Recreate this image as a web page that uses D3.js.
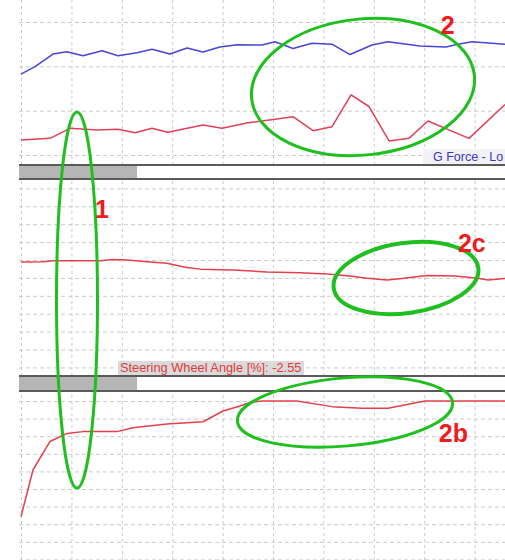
<!DOCTYPE html>
<html><head><meta charset="utf-8">
<script src="https://cdn.jsdelivr.net/npm/d3@7"></script>
<style>html,body{margin:0;padding:0;background:#fff;overflow:hidden}svg{display:block}</style>
</head><body>
<script>
// Lap distance (one grid column = 10 units) and the logged channels
const gDist = [0,2.78,6.35,9.13,12.3,16.07,19.25,23.0,26.0,29.56,32.94,36.11,39.48,42.86,47.82,50.4,53.97,57.74,61.7,65.28,69.64,72.82,79.17,84.33,86.71,89.48,96.03];
const gLong = [0.913,0.996,1.139,1.165,1.12,1.176,1.12,1.154,1.192,1.139,1.207,1.162,1.218,1.243,1.241,1.278,1.201,1.26,1.25,1.133,1.241,1.278,1.229,1.218,1.248,1.278,1.248];
const gLatDist = [0,5.75,9.72,15.08,19.25,22.62,25.99,29.17,36.11,39.88,45.04,50.4,53.97,57.94,61.71,65.48,69.05,73.02,76.98,80.75,88.89,96.03];
const gLat = [0.169,0.188,0.301,0.282,0.29,0.251,0.301,0.256,0.338,0.301,0.364,0.403,0.432,0.274,0.319,0.677,0.547,0.158,0.188,0.383,0.188,0.570];
const steerDist = [0,4.37,6.35,15.67,18.25,21.03,24.99,28.96,32.54,35.52,42.06,48.81,55.36,60.71,65.28,68.65,72.62,75.6,80.56,86.11,90.67,92.66,96.03];
const steerPct = [-0.56,-0.47,-0.22,-0.22,0.17,0,-0.47,-0.92,-2.04,-2.55,-2.79,-3.35,-3.55,-3.91,-4.47,-5.11,-5.59,-5.17,-4.33,-4.47,-5.11,-5.59,-5.17];
const throttleDist = [0,2.38,5.75,9.13,12.3,19.05,22.22,28.96,36.11,40.08,43.45,45.44,47.82,54.76,61.71,67.66,72.82,80.16,96.03];
const throttlePct = [34.3,60.8,77,81.6,82.6,82.6,84.8,86.9,88.2,94.3,97.2,99.1,100,100,96.8,95.9,95.9,100,100];
const cursorIndex = 9;
const channelNames = ["G Force - Lo", "Steering Wheel Angle [%]"];
const distTicks = [0,10,20,30,40,50,60,70,80,90];

const W = 505, H = 560, left = 19;
const svg = d3.select("body").append("svg").attr("width", W).attr("height", H);
const x = d3.scaleLinear().domain([0, 10]).range([21, 71.4]);

const panels = [
  { top: 0, bottom: 165, y: d3.scaleLinear().domain([0, 0.5]).range([155, 110.67]), step: 0.5,
    series: [{ d: gDist, v: gLong, color: "#4646d8" }, { d: gLatDist, v: gLat, color: "#e0405a" }] },
  { top: 180, bottom: 376, y: d3.scaleLinear().domain([0, 5]).range([260, 242.1]), step: 5,
    series: [{ d: steerDist, v: steerPct, color: "#e3404a" }] },
  { top: 392, bottom: 560, y: d3.scaleLinear().domain([100, 90]).range([401, 418.6]), step: 10,
    series: [{ d: throttleDist, v: throttlePct, color: "#e3404a" }] }
];

panels.forEach((p, i) => {
  const g = svg.append("g");
  const id = "clip" + i;
  svg.append("clipPath").attr("id", id).append("rect")
    .attr("x", left).attr("y", p.top).attr("width", W - left).attr("height", p.bottom - p.top);
  const body = g.append("g").attr("clip-path", `url(#${id})`);
  body.append("rect").attr("x", left).attr("y", p.top).attr("width", W - left)
    .attr("height", p.bottom - p.top).attr("fill", "#fff");

  // horizontal grid from the panel's value scale
  const lo = Math.min(p.y.invert(p.top), p.y.invert(p.bottom));
  const hi = Math.max(p.y.invert(p.top), p.y.invert(p.bottom));
  const vals = d3.range(Math.ceil(lo / p.step), Math.floor(hi / p.step) + 1).map(k => k * p.step);
  const hg = body.append("g").attr("transform", `translate(${left},0)`)
    .call(d3.axisLeft(p.y).tickValues(vals).tickSize(-(W - left)).tickFormat(""));
  hg.select(".domain").remove();
  hg.selectAll("line").attr("stroke", "#cacaca").attr("stroke-dasharray", "4,3");

  // vertical grid from the distance scale
  const vg = body.append("g").attr("transform", `translate(0,${p.bottom})`)
    .call(d3.axisTop(x).tickValues(distTicks).tickSize(p.bottom - p.top).tickFormat(""));
  vg.select(".domain").remove();
  vg.selectAll("line").attr("stroke", "#cacaca").attr("stroke-dasharray", "3,3");

  p.series.forEach(s => {
    const line = d3.line().x(k => x(s.d[k])).y(k => p.y(s.v[k]));
    body.append("path").attr("d", line(d3.range(s.d.length)))
      .attr("fill", "none").attr("stroke", s.color).attr("stroke-width", 1.5)
      .attr("stroke-linejoin", "round");
  });
});

// scroll bars between the panels
[[165, 179], [376, 391]].forEach(([a, b]) => {
  svg.append("rect").attr("x", left).attr("y", a).attr("width", W - left).attr("height", b - a).attr("fill", "#fff");
  svg.append("rect").attr("x", left).attr("y", a).attr("width", 118).attr("height", b - a).attr("fill", "#b5b5b5");
  svg.append("line").attr("x1", left).attr("x2", W).attr("y1", a).attr("y2", a).attr("stroke", "#5a5a5a").attr("stroke-width", 2);
  svg.append("line").attr("x1", left).attr("x2", W).attr("y1", b).attr("y2", b).attr("stroke", "#5a5a5a").attr("stroke-width", 2);
});

// channel labels
const font = "Liberation Sans, Arial, sans-serif";
svg.append("rect").attr("x", 423).attr("y", 149).attr("width", W - 423).attr("height", 15).attr("fill", "#f1f1f6");
svg.append("text").attr("x", 433).attr("y", 161).attr("font-family", font).attr("font-size", 12.5)
  .attr("fill", "#3838c8").text(channelNames[0]);
svg.append("rect").attr("x", 118).attr("y", 361).attr("width", 186).attr("height", 14).attr("fill", "#dadada");
svg.append("text").attr("x", 120).attr("y", 372).attr("font-family", font).attr("font-size", 12.8)
  .attr("fill", "#e03a3a").text(`${channelNames[1]}: ${steerPct[cursorIndex].toFixed(2)}`);

// hand-drawn callouts
const notes = [
  { panel: 1, d: 11.11, v: -11.2, rx: 20.5, ry: 188, rot: 0, w: 3 },
  { panel: 0, d: 67.86, v: 0.767, rx: 112, ry: 68, rot: -6, w: 3 },
  { panel: 1, d: 76.39, v: -5.03, rx: 73, ry: 35, rot: -8, w: 4 },
  { panel: 2, d: 64.29, v: 93.75, rx: 108, ry: 34, rot: -5, w: 3 }
];
notes.forEach(n => {
  const cx = x(n.d), cy = panels[n.panel].y(n.v);
  svg.append("ellipse").attr("cx", cx).attr("cy", cy).attr("rx", n.rx).attr("ry", n.ry)
    .attr("transform", `rotate(${n.rot},${cx},${cy})`)
    .attr("fill", "none").attr("stroke", "#1fbf1f").attr("stroke-width", n.w);
});
const tags = [
  { panel: 1, d: 14.7, v: 11.73, t: "1" },
  { panel: 0, d: 83.3, v: 1.365, t: "2" },
  { panel: 1, d: 86.7, v: 2.23, t: "2c" },
  { panel: 2, d: 82.9, v: 76.7, t: "2b" }
];
tags.forEach(tg => {
  svg.append("text").attr("x", x(tg.d)).attr("y", panels[tg.panel].y(tg.v))
    .attr("font-family", font).attr("font-weight", "bold").attr("font-size", 25)
    .attr("fill", "#ee1c1c").text(tg.t);
});
</script>
</body></html>
